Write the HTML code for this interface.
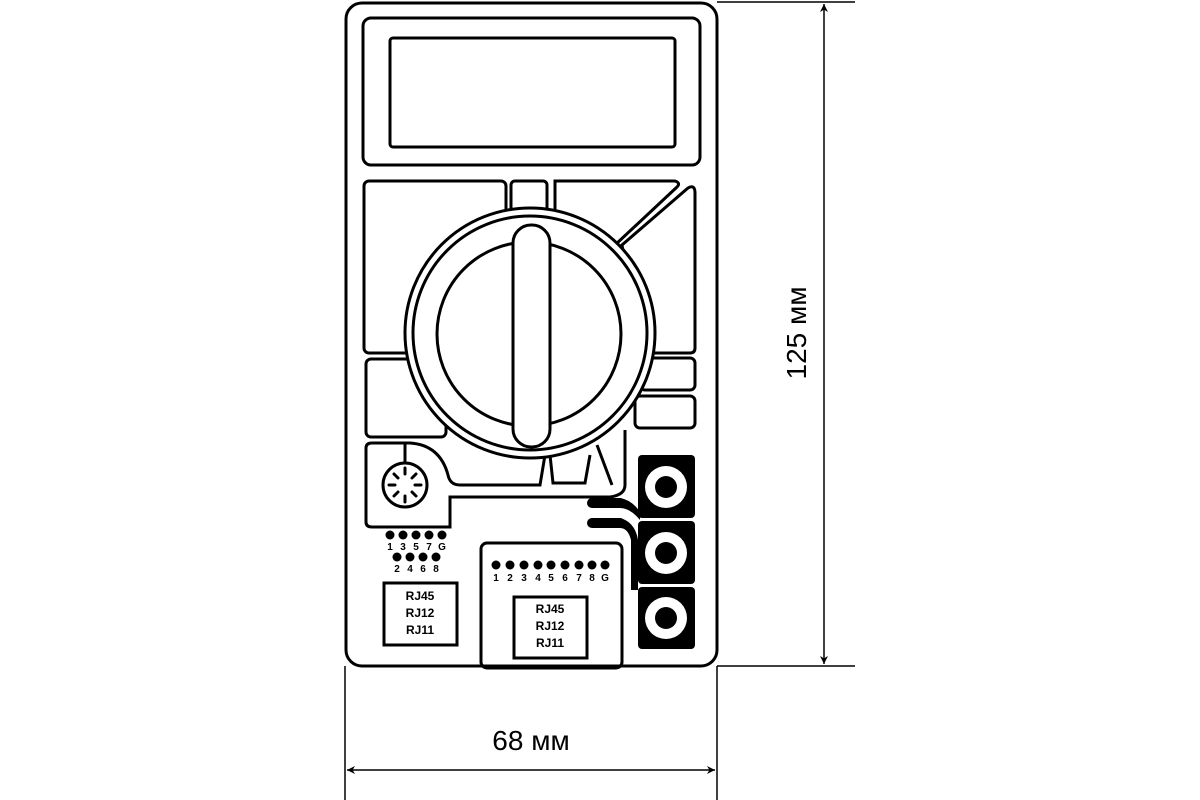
<!DOCTYPE html>
<html><head><meta charset="utf-8"><style>
html,body{margin:0;padding:0;background:#fff;}
svg{display:block}
text{font-family:"Liberation Sans",sans-serif;}
</style></head><body>
<svg width="1200" height="800" viewBox="0 0 1200 800" xmlns="http://www.w3.org/2000/svg">
<defs>
<marker id="ar" viewBox="0 0 10 10" refX="10" refY="5" markerWidth="8" markerHeight="8" orient="auto-start-reverse" markerUnits="userSpaceOnUse">
<path d="M0,0 L10,5 L0,10 L3,5 z" fill="#000"/></marker>
</defs>
<g fill="none" stroke="#000" stroke-width="3">
<rect x="346" y="3" width="371" height="663" rx="16"/>
<rect x="363" y="18" width="337" height="147" rx="8"/>
<rect x="390" y="38" width="285" height="109" rx="3"/>
<!-- upper blocks -->
<rect x="364" y="181" width="142" height="172" rx="5"/>
<rect x="511" y="181" width="36" height="40" rx="4"/>
<path d="M555,181 L675,181 Q681,183 677,187 L615,245 L555,245 Z"/>
<path d="M688,188 Q695,184 695,193 L695,348 Q695,353 690,353 L640,353 L622,245 Z"/>
<rect x="366" y="359" width="80" height="78" rx="5"/>
<rect x="640" y="358" width="55" height="32" rx="5"/>
<rect x="635" y="396" width="60" height="32" rx="5"/>
<!-- lower bits -->
<path d="M366,448 Q366,443 372,443 L410,443 Q440,445 448,475 Q450,485 460,485 L540,485 L545,455"/>
<path d="M366,448 L366,522 Q366,527 372,527 L450,527 L450,497 L610,497 Q625,495 625,485 L625,430"/>
<path d="M550,455 L553,483 L585,483 L590,455"/>
<path d="M597,445 L612,485"/>
<line x1="405" y1="443" x2="405" y2="463"/>
<circle cx="405" cy="485" r="22"/>
<!-- knob -->
<circle cx="530" cy="333" r="125" fill="#fff"/>
<circle cx="530" cy="333" r="117"/>
<circle cx="529" cy="334" r="92"/>
<rect x="513" y="225" width="37" height="222" rx="18" fill="#fff"/>
<!-- boxes -->
<rect x="384" y="583" width="73" height="62"/>
<rect x="481" y="543" width="141" height="125" rx="6"/>
<rect x="514" y="597" width="73" height="61"/>
</g>
<!-- socket slots -->
<g stroke="#000" stroke-width="3" stroke-linecap="round">
<line x1="405" y1="468" x2="405" y2="474"/><line x1="405" y1="496" x2="405" y2="502"/>
<line x1="389" y1="485" x2="395" y2="485"/><line x1="415" y1="485" x2="421" y2="485"/>
<line x1="394" y1="474" x2="398" y2="478"/><line x1="412" y1="492" x2="416" y2="496"/>
<line x1="416" y1="474" x2="412" y2="478"/><line x1="398" y1="492" x2="394" y2="496"/>
</g>
<!-- jacks -->
<g fill="#000">
<rect x="638" y="455" width="57" height="63" rx="4"/>
<rect x="638" y="521" width="57" height="63" rx="4"/>
<rect x="638" y="587" width="57" height="62" rx="4"/>
<rect x="587" y="498" width="38" height="10" rx="5"/>
<path d="M620,498 Q632,500 640,512 L640,520 Q630,508 620,508 Z"/>
<rect x="587" y="518" width="38" height="10" rx="5"/>
<path d="M620,518 Q635,522 638,540 L638,590 L631,590 L631,540 Q628,528 620,528 Z"/>
</g>
<g fill="#fff"><circle cx="666" cy="487" r="21"/><circle cx="666" cy="553" r="21"/><circle cx="666" cy="618" r="21"/></g>
<g fill="#000"><circle cx="666" cy="487" r="11"/><circle cx="666" cy="553" r="11"/><circle cx="666" cy="618" r="11"/>
<circle cx="390" cy="535" r="4.5"/><circle cx="403" cy="535" r="4.5"/><circle cx="416" cy="535" r="4.5"/><circle cx="429" cy="535" r="4.5"/><circle cx="442" cy="535" r="4.5"/>
<circle cx="397" cy="557" r="4.5"/><circle cx="410" cy="557" r="4.5"/><circle cx="423" cy="557" r="4.5"/><circle cx="436" cy="557" r="4.5"/>
<circle cx="496" cy="565" r="4.5"/><circle cx="510" cy="565" r="4.5"/><circle cx="524" cy="565" r="4.5"/><circle cx="538" cy="565" r="4.5"/><circle cx="551" cy="565" r="4.5"/><circle cx="565" cy="565" r="4.5"/><circle cx="579" cy="565" r="4.5"/><circle cx="592" cy="565" r="4.5"/><circle cx="605" cy="565" r="4.5"/>
</g>
<g font-size="10" font-weight="bold" text-anchor="middle">
<text x="390" y="550">1</text><text x="403" y="550">3</text><text x="416" y="550">5</text><text x="429" y="550">7</text><text x="442" y="550">G</text>
<text x="397" y="572">2</text><text x="410" y="572">4</text><text x="423" y="572">6</text><text x="436" y="572">8</text>
<text x="496" y="581">1</text><text x="510" y="581">2</text><text x="524" y="581">3</text><text x="538" y="581">4</text><text x="551" y="581">5</text><text x="565" y="581">6</text><text x="579" y="581">7</text><text x="592" y="581">8</text><text x="605" y="581">G</text>
</g>
<g font-size="12" font-weight="bold" text-anchor="middle">
<text x="420" y="600">RJ45</text><text x="420" y="617">RJ12</text><text x="420" y="634">RJ11</text>
<text x="550" y="613">RJ45</text><text x="550" y="630">RJ12</text><text x="550" y="647">RJ11</text>
</g>
<!-- dimensions -->
<g stroke="#000" stroke-width="1.5">
<line x1="717" y1="2" x2="855" y2="2"/><line x1="717" y1="666" x2="855" y2="666"/>
<line x1="345" y1="666" x2="345" y2="800"/><line x1="717" y1="666" x2="717" y2="800"/>
<line x1="824" y1="4" x2="824" y2="664" marker-start="url(#ar)" marker-end="url(#ar)"/>
<line x1="347" y1="770" x2="715" y2="770" marker-start="url(#ar)" marker-end="url(#ar)"/>
</g>
<text x="531" y="750" font-size="28" text-anchor="middle">68 мм</text>
<text transform="translate(806,333) rotate(-90)" font-size="28" text-anchor="middle">125 мм</text>
</svg>
</body></html>
